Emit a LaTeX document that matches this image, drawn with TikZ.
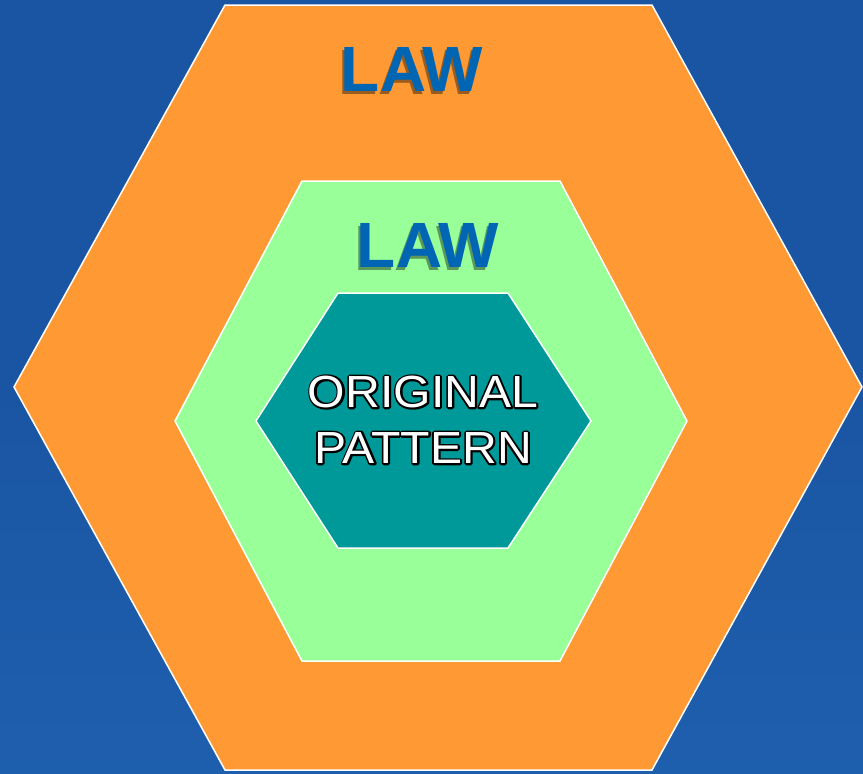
\documentclass[tikz,border=0pt]{standalone}
\usepackage{fontspec}
\setmainfont{Liberation Sans}
\definecolor{bgblue}{HTML}{1A55A3}
\definecolor{bgblue2}{HTML}{1E5FAD}
\definecolor{hexorange}{HTML}{FF9933}
\definecolor{hexgreen}{HTML}{99FF99}
\definecolor{hexteal}{HTML}{009999}
\definecolor{lawblue}{HTML}{0066B3}
\newcommand{\thickstroke}[1]{\special{pdf:literal direct 2 Tr 3.6 w 0 0 0 RG 1 j}#1\special{pdf:literal direct 0 Tr}}
\tikzset{
  hexa/.style={draw=white, line width=1.5pt, line join=miter},
  lawtxt/.style={font=\fontsize{64}{64}\selectfont\bfseries, text=lawblue, inner sep=0pt},
  lawshadow/.style={font=\fontsize{64}{64}\selectfont\bfseries, text=black, opacity=0.4, inner sep=0pt},
  origtxt/.style={font=\fontsize{45}{55}\selectfont, align=center, inner sep=0pt, xscale=1.07, text=white},
  origback/.style={origtxt, text=black},
}
\begin{document}
\begin{tikzpicture}[x=1pt,y=-1pt]
\useasboundingbox (0,0) rectangle (863,774);
\shade[top color=bgblue, bottom color=bgblue2, middle color=bgblue] (0,0) rectangle (863,774);
% outer hexagon
\filldraw[hexa, fill=hexorange] (225,5) -- (652,5) -- (862,387) -- (652,770) -- (225,770) -- (14,387) -- cycle;
% middle hexagon
\filldraw[hexa, fill=hexgreen] (302,181) -- (560,181) -- (687,421) -- (560,661) -- (302,661) -- (175,421) -- cycle;
% inner hexagon
\filldraw[hexa, fill=hexteal] (338,293) -- (508,293) -- (591,421) -- (508,548) -- (338,548) -- (256,421) -- cycle;
% LAW labels
\node[lawshadow] (law1s) at (410,72) {LAW};
\node[lawtxt] (law1) at (412,69) {LAW};
\node[lawshadow] (law2s) at (426,248) {LAW};
\node[lawtxt] (law2) at (428,245) {LAW};
% ORIGINAL PATTERN with outline
\node[origback] (orig1b) at (423,392) {\thickstroke{ORIGINAL}};
\node[origback] (orig2b) at (423,448) {\thickstroke{PATTERN}};
\node[origtxt] (orig1) at (423,392) {ORIGINAL};
\node[origtxt] (orig2) at (423,448) {PATTERN};
\end{tikzpicture}
\end{document}
